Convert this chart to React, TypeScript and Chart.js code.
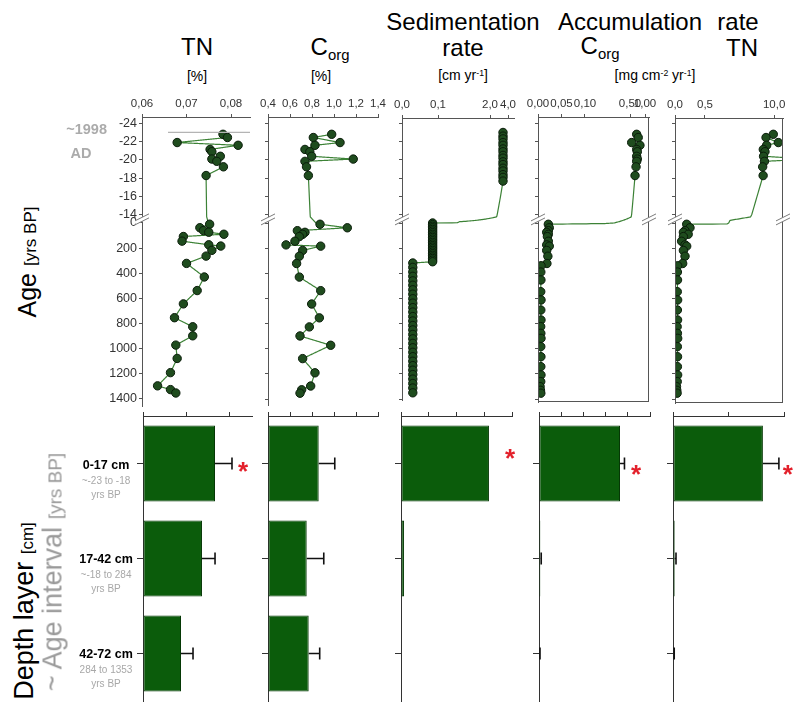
import React, { useEffect, useRef } from "react";
import { Chart, registerables } from "chart.js";
Chart.register(...registerables);

const SANS = "'Liberation Sans', Arial, Helvetica, sans-serif";
const NARROW = "'Liberation Sans Narrow', 'Arial Narrow', 'Liberation Sans', Arial, sans-serif";

// ---------------- DATA ----------------
const upperAges = [-22.8, -22.45, -21.9, -21.6, -21.15, -20.9, -20.4, -20.1, -19.85, -19.25, -18.3];
const lowerAges = [10, 38, 61, 74, 90, 108, 145, 174, 184, 218, 264, 322, 430, 538, 644, 754, 826, 898, 972, 1078, 1191, 1296, 1326, 1353];

const tnUpper = [0.0782, 0.0792, 0.0679, 0.0816, 0.0753, 0.0757, 0.0776, 0.0757, 0.0768, 0.0783, 0.0744];
const tnLower = [0.0752, 0.073, 0.0738, 0.075, 0.0784, 0.0693, 0.069, 0.075, 0.0777, 0.0757, 0.0744, 0.07, 0.074, 0.0724, 0.0693, 0.0673, 0.0714, 0.0714, 0.0676, 0.0679, 0.0664, 0.0635, 0.0664, 0.0676];

const corgUpper = [0.979, 0.812, 1.055, 0.827, 0.736, 0.78, 0.797, 1.175, 0.736, 0.75, 0.767];
const corgLower = [0.873, 1.121, 0.667, 0.736, 0.715, 0.685, 0.645, 0.564, 0.879, 0.715, 0.685, 0.66, 0.685, 0.879, 0.797, 0.867, 0.776, 0.691, 0.97, 0.715, 0.827, 0.788, 0.706, 0.691];

const sedAgesUpper = [-23.0, -22.6, -22.3, -21.9, -21.6, -21.2, -20.9, -20.5, -20.2, -19.8, -19.5, -19.1, -18.8, -18.4, -18.1, -17.7];
const sedUpper = [3.3, 3.3, 3.3, 3.3, 3.3, 3.3, 3.3, 3.3, 3.3, 3.3, 3.3, 3.3, 3.3, 3.3, 3.3, 3.3];
const sedAgesMid = [0, 13, 26, 38, 51, 64, 77, 90, 103, 115, 128, 141, 154, 167, 180, 192, 205, 218, 231, 244, 257, 270, 282, 295, 308];
const sedMid = [0.085, 0.085, 0.085, 0.085, 0.085, 0.085, 0.085, 0.085, 0.085, 0.085, 0.085, 0.085, 0.085, 0.085, 0.085, 0.085, 0.085, 0.085, 0.085, 0.085, 0.085, 0.085, 0.085, 0.085, 0.085];
const sedAgesLow = [318, 353, 389, 424, 460, 495, 531, 566, 602, 637, 673, 708, 744, 779, 815, 850, 886, 921, 957, 992, 1028, 1063, 1099, 1134, 1170, 1205, 1241, 1276, 1312, 1350];
const sedLow = [0.03, 0.03, 0.03, 0.03, 0.03, 0.03, 0.03, 0.03, 0.03, 0.03, 0.03, 0.03, 0.03, 0.03, 0.03, 0.03, 0.03, 0.03, 0.03, 0.03, 0.03, 0.03, 0.03, 0.03, 0.03, 0.03, 0.03, 0.03, 0.03, 0.03];

const accAgesMid = [10, 38, 61, 74, 90, 108, 145, 174, 184, 218, 264, 322];
const accAgesLow = [340, 390, 453, 546, 612, 692, 771, 824, 877, 917, 983, 1063, 1142, 1208, 1261, 1301, 1330, 1353];

const accCUpper = [0.68, 0.73, 0.54, 0.79, 0.68, 0.7, 0.68, 0.7, 0.68, 0.66, 0.63];
const accCMid = [0.022, 0.024, 0.022, 0.0185, 0.022, 0.02, 0.022, 0.0185, 0.024, 0.0185, 0.021, 0.019];
const accCLow = [0.0065, 0.006, 0.0062, 0.0058, 0.0064, 0.006, 0.0063, 0.0057, 0.006, 0.0064, 0.0059, 0.0062, 0.006, 0.0063, 0.0058, 0.0045, 0.0052, 0.006];

const accTNUpper = [9.9, 9.08, 10.47, 9.15, 8.77, 8.96, 8.8, 14.0, 8.9, 8.7, 8.75];
const accTNMid = [0.195, 0.25, 0.167, 0.14, 0.22, 0.14, 0.11, 0.167, 0.195, 0.14, 0.167, 0.128];
const accTNLow = [0.045, 0.04, 0.042, 0.038, 0.044, 0.04, 0.043, 0.036, 0.04, 0.045, 0.039, 0.042, 0.04, 0.044, 0.037, 0.025, 0.03, 0.035];

const ageTicksUpper = [-24, -22, -20, -18, -16, -14];
const ageTicksLower = [0, 200, 400, 600, 800, 1000, 1200, 1400];
const markerAge = -23;

const tnTicks = [0.06, 0.07, 0.08];
const corgTicks = [0.4, 0.6, 0.8, 1.0, 1.2, 1.4];
const sedTicks = [0.0, 0.1, 2.0, 4.0];
const accCTicks = [0.0, 0.05, 0.1, 0.5, 1.0];
const accTNTicks = [0.0, 0.5, 10.0];

const layers = ["0-17 cm", "17-42 cm", "42-72 cm"];
const layerAges = ["~-23 to -18", "~-18 to 284", "284 to 1353"];

const barTN = [0.0828, 0.0678, 0.0437];
const errTN = [0.0195, 0.015, 0.0138];
const barCorg = [0.461, 0.352, 0.37];
const errCorg = [0.146, 0.155, 0.1];
const barSed = [3.17, 0.11, 0.02];
const errSed = [0, 0, 0];
const barAccC = [0.73, 0.012, 0.005];
const errAccC = [0.04, 0.008, 0.004];
const barAccTN = [8.1, 0.15, 0.05];
const errAccTN = [1.44, 0.12, 0.06];

const sigTN = [true, false, false];
const sigCorg = [false, false, false];
const sigSed = [true, false, false];
const sigAccC = [true, false, false];
const sigAccTN = [true, false, false];

const barTicksTN = [0, 0.05, 0.1];
const barTicksCorg = [0, 0.2, 0.4, 0.6, 0.8, 1.0];
const barTicksSed = [0, 1, 2, 3, 4];
const barTicksAccC = [0, 0.2, 0.4, 0.6, 0.8, 1.0];
const barTicksAccTN = [0, 5, 10];

// ---------------- broken-axis mapping ----------------
type Seg = { v0: number; v1: number; p0: number; p1: number; log?: boolean };
function makeMap(segs: Seg[]) {
  const lin = (s: Seg, v: number) => {
    if (s.log) {
      const l0 = Math.log10(s.v0), l1 = Math.log10(s.v1);
      return s.p0 + ((Math.log10(Math.max(v, 1e-9)) - l0) / (l1 - l0)) * (s.p1 - s.p0);
    }
    return s.p0 + ((v - s.v0) / (s.v1 - s.v0)) * (s.p1 - s.p0);
  };
  return (v: number): number => {
    for (let i = 0; i < segs.length; i++) {
      const s = segs[i];
      if (v <= s.v1 || i === segs.length - 1) {
        if (v >= s.v0 || i === 0) return lin(s, v);
        const a = segs[i - 1];
        return a.p1 + ((v - a.v1) / (s.v0 - a.v1)) * (s.p0 - a.p1);
      }
    }
    return 0;
  };
}

const ageMap = makeMap([
  { v0: -24, v1: -13.8, p0: 123.3, p1: 216.83 },
  { v0: 0, v1: 1400, p0: 223, p1: 399.1 },
]);
const tnMap = makeMap([{ v0: 0.06, v1: 0.1, p0: 142, p1: 320 }]);
const corgMap = makeMap([{ v0: 0.4, v1: 1.4, p0: 268, p1: 378 }]);
const sedMap = makeMap([
  { v0: 0, v1: 0.153, p0: 402, p1: 457.1 },
  { v0: 0.62, v1: 5.04, p0: 459.6, p1: 514, log: true },
]);
const accCMap = makeMap([
  { v0: 0, v1: 0.1426, p0: 538, p1: 605 },
  { v0: 0.177, v1: 1.2, p0: 607.5, p1: 649, log: true },
]);
const accTNMap = makeMap([
  { v0: 0, v1: 0.867, p0: 675, p1: 727 },
  { v0: 5, v1: 11, p0: 730, p1: 783 },
]);

const zip = (ages: number[], vals: number[]) => ages.map((a, i) => [vals[i], a] as [number, number]);
const fmt = (d: number) => (v: number) => v.toFixed(d).replace(".", ",");

// ---------------- styles ----------------
const AX = "#555";
const PT_FILL = "#1f4c1e";
const PT_EDGE = "#0a1c0a";
const LINE = "#3c8236";
const BAR = "#0b5c0b";
const BAR_EDGE = "#063806";
const STAR = "#e3202b";

type Rect = { left: number; top: number; right: number; bottom: number };

function fixed(canvas: Rect, area: Rect) {
  return {
    padding: { left: 0, top: 0, right: canvas.right - area.right, bottom: canvas.bottom - area.bottom },
    yW: area.left - canvas.left,
    xH: area.top - canvas.top,
  };
}

function slashPair(ctx: any, x1: number, y1: number, x2: number, y2: number, ox: number, oy: number) {
  ctx.strokeStyle = "#fff";
  ctx.lineWidth = 4;
  ctx.beginPath();
  ctx.moveTo(x1 + ox / 2, y1 + oy / 2);
  ctx.lineTo(x2 + ox / 2, y2 + oy / 2);
  ctx.stroke();
  ctx.strokeStyle = "#7a7a7a";
  ctx.lineWidth = 1;
  ctx.beginPath();
  ctx.moveTo(x1, y1);
  ctx.lineTo(x2, y2);
  ctx.moveTo(x1 + ox, y1 + oy);
  ctx.lineTo(x2 + ox, y2 + oy);
  ctx.stroke();
}

type Upper = {
  canvas: Rect;
  area: Rect;
  xMap: (v: number) => number;
  ticks: number[];
  dec: number;
  series: [number, number][];
  showY: boolean;
  box: boolean;
  xBreaks: number[];
  marker: boolean;
};

function upperConfig(p: Upper) {
  const f = fixed(p.canvas, p.area);
  const ageTicks = [...ageTicksUpper, ...ageTicksLower];
  const pts = p.series.map(([v, a]) => ({ x: p.xMap(v), y: ageMap(a) }));
  const yBreak = (ageMap(-13.8) + ageMap(0)) / 2;
  const plugin = {
    id: "custom",
    beforeDatasetsDraw(chart: any) {
      const { ctx, chartArea: ca, scales } = chart;
      ctx.save();
      ctx.beginPath();
      ctx.rect(ca.left, ca.top, ca.right - ca.left, ca.bottom - ca.top);
      ctx.clip();
      ctx.strokeStyle = LINE;
      ctx.lineWidth = 1.2;
      ctx.beginPath();
      p.series.forEach(([v, a], i) => {
        const X = (vv: number) => scales.x.getPixelForValue(p.xMap(vv));
        const Y = (aa: number) => scales.y.getPixelForValue(ageMap(aa));
        if (i === 0) {
          ctx.moveTo(X(v), Y(a));
          return;
        }
        const [v0, a0] = p.series[i - 1];
        const N = 60;
        for (let k = 1; k <= N; k++) {
          const t = k / N;
          ctx.lineTo(X(v0 + (v - v0) * t), Y(a0 + (a - a0) * t));
        }
      });
      ctx.stroke();
      ctx.restore();
    },
    afterDraw(chart: any) {
      const { ctx, chartArea: ca, scales } = chart;
      ctx.save();
      if (p.marker) {
        const y = scales.y.getPixelForValue(ageMap(markerAge));
        ctx.strokeStyle = "#b4b4b4";
        ctx.lineWidth = 1.3;
        ctx.beginPath();
        ctx.moveTo(108, y);
        ctx.lineTo(ca.right, y);
        ctx.stroke();
      }
      if (p.box) {
        ctx.strokeStyle = AX;
        ctx.lineWidth = 1;
        ctx.strokeRect(ca.left + 0.5, ca.top + 0.5, ca.right - ca.left - 1, ca.bottom - ca.top - 1);
      }
      const yb = scales.y.getPixelForValue(yBreak);
      const sidesY = p.box ? [ca.left, ca.right] : [ca.left];
      sidesY.forEach((x: number) => slashPair(ctx, x - 7, yb + 1, x + 7, yb - 6, 0, 4));
      p.xBreaks.forEach((xb) => {
        const x = scales.x.getPixelForValue(xb);
        const ys = p.box ? [ca.top, ca.bottom] : [ca.top];
        ys.forEach((y: number) => slashPair(ctx, x - 6, y + 6, x + 1, y - 6, 4, 0));
      });
      ctx.restore();
    },
  };
  return {
    type: "scatter",
    data: {
      datasets: [
        {
          data: pts,
          pointRadius: 4.2,
          pointBackgroundColor: PT_FILL,
          pointBorderColor: PT_EDGE,
          pointBorderWidth: 1,
          showLine: false,
        },
      ],
    },
    options: {
      animation: false,
      responsive: false,
      devicePixelRatio: 1,
      events: [],
      layout: { padding: f.padding },
      plugins: { legend: { display: false }, tooltip: { enabled: false } },
      scales: {
        x: {
          type: "linear",
          position: "top",
          min: p.area.left,
          max: p.area.right,
          afterFit: (s: any) => {
            s.height = f.xH;
            s.paddingLeft = 0;
            s.paddingRight = 0;
          },
          afterBuildTicks: (s: any) => {
            s.ticks = p.ticks.map((v) => ({ value: p.xMap(v) }));
          },
          ticks: {
            autoSkip: false,
            maxRotation: 0,
            padding: 3,
            color: "#333",
            font: { family: NARROW, size: 11.5 },
            callback: (_v: any, i: number) => fmt(p.dec)(p.ticks[i]),
          },
          grid: { drawOnChartArea: false, drawTicks: true, tickLength: 3, color: AX },
          border: { display: true, color: AX, width: 1 },
        },
        y: {
          type: "linear",
          position: "left",
          reverse: true,
          min: p.area.top,
          max: p.area.bottom,
          afterFit: (s: any) => {
            s.width = f.yW;
            s.paddingTop = 0;
            s.paddingBottom = 0;
          },
          afterBuildTicks: (s: any) => {
            s.ticks = ageTicks.map((a) => ({ value: ageMap(a) }));
          },
          ticks: {
            display: p.showY,
            autoSkip: false,
            padding: 2,
            color: "#333",
            font: { family: NARROW, size: 12.5 },
            callback: (_v: any, i: number) => String(ageTicks[i]),
          },
          grid: { drawOnChartArea: false, drawTicks: true, tickLength: 3, color: AX },
          border: { display: true, color: AX, width: 1 },
        },
      },
    },
    plugins: [plugin],
  };
}

type BarP = {
  canvas: Rect;
  area: Rect;
  max: number;
  ticks: number[];
  values: number[];
  errs: number[];
  sig: boolean[];
  star: { dx: number; dy: number };
};

function barConfig(b: BarP) {
  const f = fixed(b.canvas, b.area);
  const plugin = {
    id: "errs",
    afterDatasetsDraw(chart: any) {
      const { ctx, scales } = chart;
      ctx.save();
      b.values.forEach((v, i) => {
        const y = scales.y.getPixelForValue(i);
        const x0 = scales.x.getPixelForValue(v);
        const x1 = scales.x.getPixelForValue(v + b.errs[i]);
        if (b.errs[i] > 0) {
          ctx.strokeStyle = "#111";
          ctx.lineWidth = 1.6;
          ctx.beginPath();
          ctx.moveTo(x0, y);
          ctx.lineTo(x1, y);
          ctx.moveTo(x1, y - 6);
          ctx.lineTo(x1, y + 6);
          ctx.stroke();
        }
        if (b.sig[i]) {
          const size = 26;
          ctx.fillStyle = STAR;
          ctx.font = `bold ${size}px ${SANS}`;
          ctx.textAlign = "center";
          ctx.textBaseline = "alphabetic";
          ctx.fillText("*", x1 + b.star.dx, y + b.star.dy + size * 0.58);
        }
      });
      ctx.restore();
    },
  };
  return {
    type: "bar",
    data: {
      labels: layers,
      datasets: [
        {
          data: b.values,
          backgroundColor: BAR,
          borderColor: BAR_EDGE,
          borderWidth: 1,
          borderSkipped: false,
          barPercentage: 0.8,
          categoryPercentage: 1.0,
        },
      ],
    },
    options: {
      indexAxis: "y",
      animation: false,
      responsive: false,
      devicePixelRatio: 1,
      events: [],
      layout: { padding: f.padding },
      plugins: { legend: { display: false }, tooltip: { enabled: false } },
      scales: {
        x: {
          type: "linear",
          position: "top",
          min: 0,
          max: b.max,
          afterFit: (s: any) => {
            s.height = f.xH;
            s.paddingLeft = 0;
            s.paddingRight = 0;
          },
          afterBuildTicks: (s: any) => {
            s.ticks = b.ticks.map((v) => ({ value: v }));
          },
          ticks: { display: false },
          grid: { drawOnChartArea: false, drawTicks: true, tickLength: 4, color: "#333" },
          border: { display: true, color: "#333", width: 1 },
        },
        y: {
          type: "category",
          position: "left",
          afterFit: (s: any) => {
            s.width = f.yW;
            s.paddingTop = 0;
            s.paddingBottom = 0;
          },
          ticks: { display: false },
          grid: { drawOnChartArea: false, drawTicks: true, offset: false, tickLength: 6, color: "#333" },
          border: { display: true, color: "#333", width: 1 },
        },
      },
    },
    plugins: [plugin],
  };
}

const uppers: Upper[] = [
  {
    canvas: { left: 60, top: 85, right: 256, bottom: 412 },
    area: { left: 142, top: 117, right: 250, bottom: 407 },
    xMap: tnMap, ticks: tnTicks, dec: 2,
    series: [...zip(upperAges, tnUpper), ...zip(lowerAges, tnLower)],
    showY: true, box: false, xBreaks: [], marker: true,
  },
  {
    canvas: { left: 258, top: 85, right: 388, bottom: 412 },
    area: { left: 268, top: 117, right: 378, bottom: 405 },
    xMap: corgMap, ticks: corgTicks, dec: 1,
    series: [...zip(upperAges, corgUpper), ...zip(lowerAges, corgLower)],
    showY: false, box: false, xBreaks: [], marker: false,
  },
  {
    canvas: { left: 390, top: 85, right: 522, bottom: 412 },
    area: { left: 402, top: 118, right: 514, bottom: 400 },
    xMap: sedMap, ticks: sedTicks, dec: 1,
    series: [...zip(sedAgesUpper, sedUpper), ...zip(sedAgesMid, sedMid), ...zip(sedAgesLow, sedLow)],
    showY: false, box: false, xBreaks: [0.4], marker: false,
  },
  {
    canvas: { left: 524, top: 85, right: 659, bottom: 412 },
    area: { left: 538, top: 117, right: 649, bottom: 402 },
    xMap: accCMap, ticks: accCTicks, dec: 2,
    series: [...zip(upperAges, accCUpper), ...zip(accAgesMid, accCMid), ...zip(accAgesLow, accCLow)],
    showY: false, box: true, xBreaks: [0.16], marker: false,
  },
  {
    canvas: { left: 661, top: 85, right: 794, bottom: 412 },
    area: { left: 675, top: 118, right: 783, bottom: 403 },
    xMap: accTNMap, ticks: accTNTicks, dec: 1,
    series: [...zip(upperAges, accTNUpper), ...zip(accAgesMid, accTNMid), ...zip(accAgesLow, accTNLow)],
    showY: false, box: true, xBreaks: [2.5], marker: false,
  },
];

const bars: BarP[] = [
  {
    canvas: { left: 60, top: 398, right: 256, bottom: 702 },
    area: { left: 143, top: 416, right: 252, bottom: 701 },
    max: 0.1253, ticks: barTicksTN, values: barTN, errs: errTN, sig: sigTN, star: { dx: 11, dy: 1 },
  },
  {
    canvas: { left: 258, top: 398, right: 388, bottom: 702 },
    area: { left: 268, top: 416, right: 378, bottom: 701 },
    max: 1.0, ticks: barTicksCorg, values: barCorg, errs: errCorg, sig: sigCorg, star: { dx: 10, dy: 0 },
  },
  {
    canvas: { left: 390, top: 398, right: 522, bottom: 702 },
    area: { left: 401, top: 416, right: 512, bottom: 701 },
    max: 4, ticks: barTicksSed, values: barSed, errs: errSed, sig: sigSed, star: { dx: 21, dy: -12 },
  },
  {
    canvas: { left: 524, top: 398, right: 659, bottom: 702 },
    area: { left: 539, top: 416, right: 650, bottom: 701 },
    max: 1.0, ticks: barTicksAccC, values: barAccC, errs: errAccC, sig: sigAccC, star: { dx: 11.5, dy: 4 },
  },
  {
    canvas: { left: 661, top: 398, right: 794, bottom: 702 },
    area: { left: 673, top: 416, right: 784, bottom: 701 },
    max: 10, ticks: barTicksAccTN, values: barAccTN, errs: errAccTN, sig: sigAccTN, star: { dx: 9, dy: 4 },
  },
];

function ChartBox({ rect, make }: { rect: Rect; make: () => any }) {
  const ref = useRef<HTMLCanvasElement | null>(null);
  useEffect(() => {
    const c = new Chart(ref.current as HTMLCanvasElement, make());
    return () => c.destroy();
  }, []);
  const w = rect.right - rect.left;
  const h = rect.bottom - rect.top;
  return (
    <canvas
      ref={ref}
      width={w}
      height={h}
      style={{ position: "absolute", left: rect.left, top: rect.top, width: w, height: h }}
    />
  );
}

function Txt(props: {
  x: number; y: number; children: any; size?: number; color?: string; weight?: number;
  align?: "center" | "right" | "left"; family?: string; rotate?: boolean;
}) {
  const { x, y, children, size = 13, color = "#000", weight = 400, align = "center", family = NARROW, rotate = false } = props;
  const tx = align === "center" ? "-50%" : align === "right" ? "-100%" : "0";
  return (
    <div
      style={{
        position: "absolute",
        left: x,
        top: y,
        transform: `translate(${tx}, -50%)${rotate ? " rotate(-90deg)" : ""}`,
        transformOrigin: "center center",
        fontFamily: family,
        fontSize: size,
        fontWeight: weight,
        color,
        whiteSpace: "nowrap",
        lineHeight: 1,
      }}
    >
      {children}
    </div>
  );
}

const sub = (t: string) => <span style={{ fontSize: "0.62em", verticalAlign: "-0.3em" }}>{t}</span>;
const sup = (t: string) => <span style={{ fontSize: "0.62em", verticalAlign: "0.45em" }}>{t}</span>;

export default function App() {
  const HS = 24;
  return (
    <div style={{ position: "absolute", left: 0, top: 0, width: 794, height: 702, overflow: "hidden", background: "#fff" }}>
      {uppers.map((p, i) => (
        <ChartBox key={"u" + i} rect={p.canvas} make={() => upperConfig(p)} />
      ))}
      {bars.map((b, i) => (
        <ChartBox key={"b" + i} rect={b.canvas} make={() => barConfig(b)} />
      ))}

      {/* headers */}
      <Txt x={197} y={47} size={HS}>TN</Txt>
      <Txt x={197} y={76} size={14}>[%]</Txt>
      <Txt x={330} y={49} size={HS}>C{sub("org")}</Txt>
      <Txt x={321} y={76} size={14}>[%]</Txt>
      <Txt x={463} y={22} size={HS}>Sedimentation</Txt>
      <Txt x={463} y={48} size={HS}>rate</Txt>
      <Txt x={463} y={75} size={14}>[cm yr{sup("-1")}]</Txt>
      <Txt x={630} y={22} size={HS}>Accumulation</Txt>
      <Txt x={738} y={22} size={HS}>rate</Txt>
      <Txt x={600} y={48} size={HS}>C{sub("org")}</Txt>
      <Txt x={742} y={48} size={HS}>TN</Txt>
      <Txt x={655} y={75} size={14}>[mg cm{sup("-2")} yr{sup("-1")}]</Txt>

      {/* left titles */}
      <Txt x={27} y={262} rotate family={SANS} size={25}>
        Age <span style={{ fontSize: 17 }}>[yrs BP]</span>
      </Txt>
      <Txt x={107} y={129} align="right" family={SANS} size={14.5} weight={700} color="#ababab">~1998</Txt>
      <Txt x={81} y={153} family={SANS} size={14.5} weight={700} color="#ababab">AD</Txt>

      <Txt x={24} y={611} rotate family={SANS} size={27}>
        Depth layer <span style={{ fontSize: 17 }}>[cm]</span>
      </Txt>
      <Txt x={53} y={572} rotate family={SANS} size={27} color="#9a9a9a">
        ~ Age interval <span style={{ fontSize: 19 }}>[yrs BP]</span>
      </Txt>

      {layers.map((l, i) => {
        const cy = [465, 559, 654][i];
        return (
          <React.Fragment key={l}>
            <Txt x={106} y={cy} family={SANS} size={12.5} weight={700}>{l}</Txt>
            <Txt x={106} y={cy + 16} family={SANS} size={10} color="#a8a8a8">{layerAges[i]}</Txt>
            <Txt x={106} y={cy + 30} family={SANS} size={10} color="#a8a8a8">yrs BP</Txt>
          </React.Fragment>
        );
      })}
    </div>
  );
}
